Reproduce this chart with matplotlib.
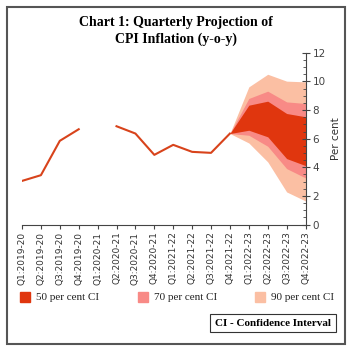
import numpy as np
import matplotlib
matplotlib.use('Agg')
import matplotlib.pyplot as plt
from matplotlib.patches import Rectangle

quarters = ['Q1:2019-20', 'Q2:2019-20', 'Q3:2019-20', 'Q4:2019-20',
            'Q1:2020-21', 'Q2:2020-21', 'Q3:2020-21', 'Q4:2020-21',
            'Q1:2021-22', 'Q2:2021-22', 'Q3:2021-22', 'Q4:2021-22',
            'Q1:2022-23', 'Q2:2022-23', 'Q3:2022-23', 'Q4:2022-23']

# actual CPI inflation (Q1:2020-21 missing)
cpi = [3.05, 3.45, 5.85, 6.66, np.nan, 6.87, 6.36, 4.87, 5.57, 5.08, 5.01, 6.36]

# fan chart bands, from Q4:2021-22 to Q4:2022-23
fan_q = quarters[11:]
ci90_hi = [6.36, 9.62, 10.5, 10.02, 9.97]
ci70_hi = [6.36, 8.81, 9.32, 8.57, 8.46]
ci50_hi = [6.36, 8.34, 8.62, 7.76, 7.53]
ci50_lo = [6.36, 6.59, 6.13, 4.61, 4.12]
ci70_lo = [6.36, 6.24, 5.47, 3.91, 3.26]
ci90_lo = [6.36, 5.70, 4.38, 2.28, 1.65]

ci_labels = ['50 per cent CI', '70 per cent CI', '90 per cent CI']
ci_colors = ['#E0360E', '#F88A86', '#FBBFA3']

fig = plt.figure(figsize=(3.52, 3.52), dpi=100)
ax = fig.add_axes([0.0625, 0.362, 0.8055, 0.488])

x = np.arange(len(quarters))
xf = x[11:]
ax.fill_between(xf, ci90_lo, ci90_hi, color=ci_colors[2], lw=0)
ax.fill_between(xf, ci70_lo, ci70_hi, color=ci_colors[1], lw=0)
ax.fill_between(xf, ci50_lo, ci50_hi, color=ci_colors[0], lw=0)
ax.plot(x[:len(cpi)], cpi, color='#D8431B', lw=1.5)

ax.set_xlim(0, 15)
ax.set_ylim(0, 12)
ax.set_xticks(x)
ax.set_xticklabels(quarters, rotation=90, fontsize=6.5, color='#333333')
ax.yaxis.tick_right()
ax.yaxis.set_label_position('right')
ax.set_yticks(range(0, 13, 2))
ax.set_yticks(np.arange(0, 12.1, 0.5), minor=True)
ax.tick_params(axis='y', which='major', direction='inout', length=6, width=0.8,
               labelsize=7.5, labelcolor='#444444', color='#444444', pad=2)
ax.tick_params(axis='y', which='minor', direction='in', length=2.5, width=0.6, color='#444444')
ax.tick_params(axis='x', direction='out', length=3, width=0.8, color='#444444', pad=2)
ax.set_ylabel('Per cent', fontsize=7.5, color='#333333', labelpad=4)
for s in ['top', 'left']:
    ax.spines[s].set_visible(False)
for s in ['bottom', 'right']:
    ax.spines[s].set_color('#444444')
    ax.spines[s].set_linewidth(0.8)

fig.text(0.5, 0.912, 'Chart 1: Quarterly Projection of\nCPI Inflation (y-o-y)',
         ha='center', va='center', fontsize=10, fontweight='bold',
         family='Liberation Serif', linespacing=1.3)

# legend
leg_x = [20, 138, 255]
for lx, lab, col in zip(leg_x, ci_labels, ci_colors):
    fig.patches.append(Rectangle((lx / 352, 1 - 302 / 352), 10 / 352, 10 / 352,
                                 transform=fig.transFigure, color=col))
    fig.text((lx + 16) / 352, 1 - 297 / 352, lab, ha='left', va='center',
             fontsize=8, family='Liberation Serif', color='#222222')

fig.text(273 / 352, 1 - 323 / 352, 'CI - Confidence Interval', ha='center', va='center',
         fontsize=8, fontweight='bold', family='Liberation Serif',
         bbox=dict(boxstyle='square,pad=0.42', fc='white', ec='#333333', lw=0.8))

# outer frame
fig.patches.append(Rectangle((7 / 352, 8 / 352), 338 / 352, 337 / 352, transform=fig.transFigure,
                             fill=False, ec='#555555', lw=1.5))

fig.savefig('out.png', dpi=100)
